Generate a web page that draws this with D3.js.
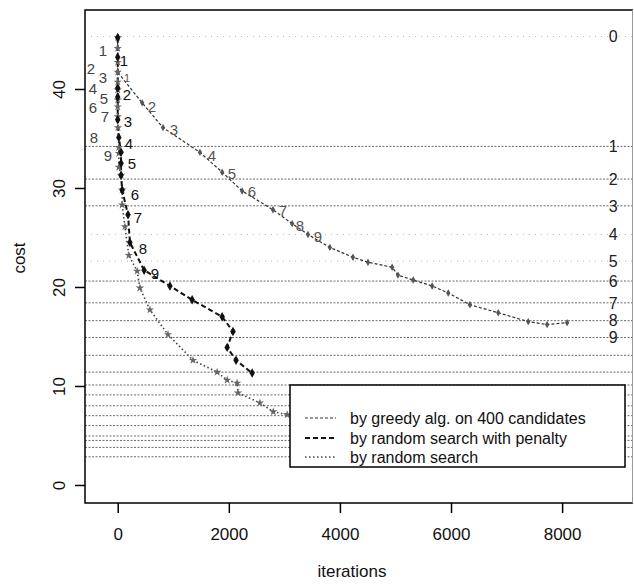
<!doctype html>
<html>
  <head>
    <title>cost vs iterations</title>
    <script src="https://cdnjs.cloudflare.com/ajax/libs/d3/7.8.5/d3.min.js"></script>
    <style>
      body { margin: 0; background: #fff; }
      svg { font-family: "Liberation Sans", Arial, sans-serif; }
      line.level { stroke: #6a6a6a; stroke-width: 1; stroke-dasharray: 2 1.5; }
      line.level.faint { stroke: #bbb; stroke-dasharray: 1 5; }
      path.greedy { fill: none; stroke: #333; stroke-width: 1.2; stroke-dasharray: 3 2; }
      path.penalty { fill: none; stroke: #111; stroke-width: 2; stroke-dasharray: 5 3; }
      path.random { fill: none; stroke: #444; stroke-width: 1.6; stroke-dasharray: 1.5 2.5; }
      .axis line { stroke: #000; stroke-width: 1.5; }
      .axis text { font-size: 17px; fill: #111; }
      text.num { font-size: 15px; }
      text.levelname { font-size: 16px; fill: #222; }
      rect.legend { fill: #fff; stroke: #000; stroke-width: 1.5; }
      text.legend { font-size: 16px; fill: #111; }
    </style>
  </head>
  <body>
    <svg width="634" height="584"></svg>
    <script>
      var xTicks = [0, 2000, 4000, 6000, 8000];
      var yTicks = [0, 10, 20, 30, 40];

      // horizontal cost levels, the first ten are named 0..9 on the right
      var levels = [45.3, 34.2, 30.9, 28.2, 25.3, 22.6, 20.6, 18.4, 16.6, 14.9,
                    13.1, 11.4, 10.1, 9.1, 8.0, 7.0, 6.0, 4.95, 4.5, 3.8, 2.85];
      var levelNames = ["0", "1", "2", "3", "4", "5", "6", "7", "8", "9"];

      // [iterations, cost]
      var greedy = [[0, 45.2], [0, 41.7], [440, 38.6], [815, 36.1], [1480, 33.6], [1880, 31.6],
                    [2240, 29.7], [2795, 27.8], [3140, 26.4], [3425, 25.3], [3820, 24.0],
                    [4235, 23.0], [4505, 22.5], [4940, 22.0], [5045, 21.2], [5320, 20.7],
                    [5660, 20.1], [5950, 19.4], [6340, 18.2], [6850, 17.4], [7390, 16.5],
                    [7730, 16.2], [8090, 16.4]];
      var penalty = [[0, 45.2], [0, 43.2], [0, 40.1], [0, 39.2], [0, 36.9], [20, 35.1],
                     [60, 33.6], [60, 32.5], [60, 31.3], [80, 29.8], [185, 27.3], [220, 24.5],
                     [475, 21.7], [940, 20.1], [1340, 18.7], [1880, 17.0], [2075, 15.5],
                     [1970, 13.9], [2130, 12.6], [2420, 11.3]];
      var random = [[0, 45.2], [0, 44.1], [0, 42.7], [0, 41.7], [0, 40.7], [0, 39.9], [0, 38.9],
                    [0, 38.2], [0, 37.2], [5, 36.1], [20, 34.1], [20, 33.5], [20, 32.1],
                    [60, 31.3], [80, 29.8], [80, 28.3], [130, 26.1], [200, 23.2], [350, 21.6],
                    [400, 19.9], [580, 17.7], [905, 15.2], [1355, 12.6], [1790, 11.4],
                    [1970, 10.6], [2150, 10.3], [2165, 9.3], [2560, 8.3], [2800, 7.4], [3050, 7.1]];

      // step numbers written next to the curves: [iterations, cost, text]
      var greedyNums = [[167, 41.1, "1"], [617, 38.2, "2"], [1013, 35.9, "3"], [1697, 33.3, "4"],
                        [2057, 31.5, "5"], [2417, 29.6, "6"], [2975, 27.7, "7"], [3281, 26.2, "8"],
                        [3605, 25.1, "9"]];
      var penaltyNums = [[113, 42.9, "1"], [167, 39.4, "2"], [185, 36.7, "3"], [203, 34.5, "4"],
                         [257, 32.5, "5"], [311, 29.3, "6"], [365, 27.0, "7"], [455, 23.9, "8"],
                         [671, 21.4, "9"]];
      var randomNums = [[-265, 43.9, "1"], [-481, 42.1, "2"], [-265, 41.2, "3"], [-445, 40.0, "4"],
                        [-247, 39.0, "5"], [-445, 38.1, "6"], [-229, 37.2, "7"], [-427, 35.1, "8"],
                        [-175, 33.3, "9"]];

      var legendLabels = ["by greedy alg. on 400 candidates",
                          "by random search with penalty",
                          "by random search"];

      var svg = d3.select("svg");
      var pLeft = 85, pRight = 633, pTop = 10, pBottom = 503;

      var x = d3.scaleLinear().domain([-589, 9258]).range([pLeft, 632]);
      var y = d3.scaleLinear().domain([-1.82, 47.98]).range([pBottom, pTop]);

      // level lines
      svg.selectAll("line.level").data(levels)
        .enter()
        .append("line")
          .attr("class", (d, i) => (i == 0 || i == 4 || i == 5) ? "level faint" : "level")
          .attr("x1", pLeft).attr("x2", pRight)
          .attr("y1", d => y(d)).attr("y2", d => y(d));

      svg.selectAll("text.levelname").data(levelNames)
        .enter()
        .append("text")
          .attr("class", "levelname")
          .attr("x", x(8920))
          .attr("y", (d, i) => y(levels[i]))
          .attr("dy", "0.36em")
          .attr("text-anchor", "middle")
          .text(d => d);

      // curves
      var line = d3.line().x(d => x(d[0])).y(d => y(d[1]));
      svg.append("path").datum(greedy).attr("class", "greedy").attr("d", line);
      svg.append("path").datum(random).attr("class", "random").attr("d", line);
      svg.append("path").datum(penalty).attr("class", "penalty").attr("d", line);

      function markers(data, shape, size, color) {
        svg.append("g").selectAll("path").data(data)
          .enter()
          .append("path")
            .attr("d", d3.symbol().type(shape).size(size))
            .attr("transform", d => "translate(" + x(d[0]) + "," + y(d[1]) + ")")
            .attr("fill", color);
      }
      markers(greedy, d3.symbolDiamond, 16, "#555");
      markers(random, d3.symbolStar, 22, "#666");
      markers(penalty, d3.symbolDiamond, 26, "#111");

      function nums(data, color, size) {
        svg.append("g").selectAll("text").data(data)
          .enter()
          .append("text")
            .attr("class", "num")
            .attr("x", d => x(d[0]))
            .attr("y", d => y(d[1]))
            .attr("dy", "0.36em")
            .attr("text-anchor", "middle")
            .attr("fill", color)
            .style("font-size", (d, i) => (size && i == 0) ? size : null)
            .text(d => d[2]);
      }
      nums(greedyNums, "#555", "11px");
      nums(penaltyNums, "#111");
      nums(randomNums, "#444");

      // axes
      var xAxis = svg.append("g").attr("class", "axis")
        .attr("transform", "translate(0," + pBottom + ")")
        .call(d3.axisBottom(x).tickValues(xTicks).tickSize(10).tickPadding(15).tickFormat(d3.format("d")));
      xAxis.select(".domain").remove();

      var yAxis = svg.append("g").attr("class", "axis")
        .attr("transform", "translate(" + pLeft + ",0)")
        .call(d3.axisLeft(y).tickValues(yTicks).tickSize(10));
      yAxis.select(".domain").remove();
      yAxis.selectAll("text")
        .attr("x", null).attr("dy", null)
        .attr("text-anchor", "middle")
        .attr("transform", "translate(-20,0) rotate(-90)");

      // plot box
      svg.append("path")
        .attr("d", "M" + pRight + "," + pTop + "H" + pLeft + "V" + pBottom + "H" + pRight)
        .attr("fill", "none").attr("stroke", "#000").attr("stroke-width", 1.5);
      svg.append("line")
        .attr("x1", pRight - 0.5).attr("x2", pRight - 0.5).attr("y1", pTop).attr("y2", pBottom)
        .attr("stroke", "#999").attr("stroke-width", 1);

      // axis titles
      svg.append("text").attr("class", "legend")
        .attr("x", 352).attr("y", 571).attr("dy", "0.36em")
        .attr("text-anchor", "middle").style("font-size", "17px")
        .text("iterations");
      svg.append("text").attr("class", "legend")
        .attr("transform", "translate(19,258) rotate(-90)")
        .attr("dy", "0.36em")
        .attr("text-anchor", "middle").style("font-size", "17px")
        .text("cost");

      // legend
      var lg = svg.append("g");
      lg.append("rect").attr("class", "legend")
        .attr("x", 290).attr("y", 385).attr("width", 335).attr("height", 82);
      var rowY = [418, 438, 457];
      var styles = ["greedy", "penalty", "random"];
      lg.selectAll("line.sample").data(styles)
        .enter()
        .append("path")
          .attr("class", d => d)
          .attr("d", (d, i) => "M305," + rowY[i] + "H336");
      lg.selectAll("text.legend").data(legendLabels)
        .enter()
        .append("text")
          .attr("class", "legend")
          .attr("x", 350)
          .attr("y", (d, i) => rowY[i])
          .attr("dy", "0.36em")
          .text(d => d);
    </script>
  </body>
</html>
